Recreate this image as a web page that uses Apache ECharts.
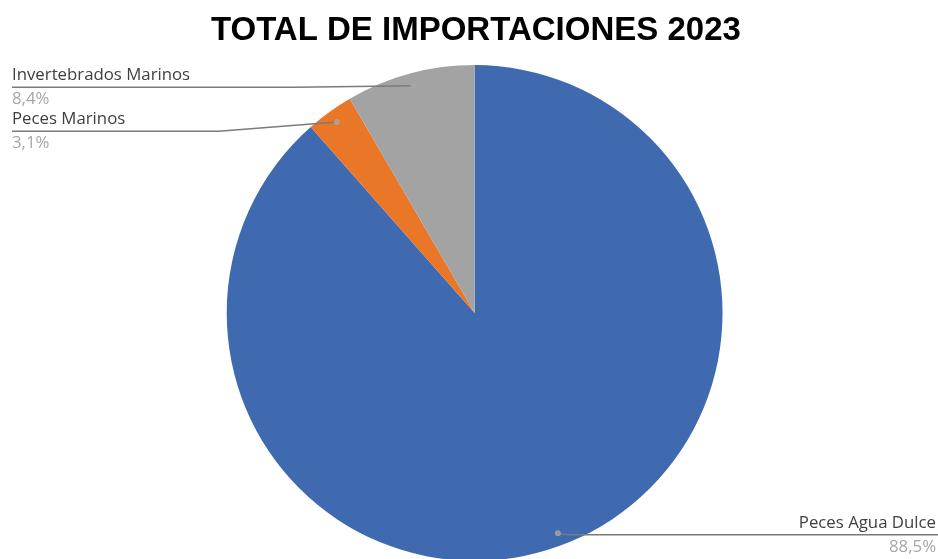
<!DOCTYPE html>
<html><head><meta charset="utf-8">
<script src="https://cdn.jsdelivr.net/npm/echarts@6/dist/echarts.min.js"></script>
<style>html,body{margin:0;padding:0;background:#fff}#c{width:938px;height:559px}</style>
</head><body><div id="c"></div>
<script>
const categories = ['Peces Agua Dulce', 'Peces Marinos', 'Invertebrados Marinos'];
const values = [88.5, 3.1, 8.4];
const colors = ['#3F6AB0', '#EA7628', '#A3A3A3'];
const titleText = 'TOTAL DE IMPORTACIONES 2023';

const CENTER = ['50.6%', '56%'];
const RADIUS = '88.7%';
const DOT_R = 0.95;

const chart = echarts.init(document.getElementById('c'));
const total = values.reduce((a, b) => a + b, 0);
const mids = [];
let acc = 0;
values.forEach(v => { mids.push((acc + v / 2) / total * 100); acc += v; });

function geom() {
  const W = chart.getWidth(), H = chart.getHeight();
  const cx = parseFloat(CENTER[0]) / 100 * W, cy = parseFloat(CENTER[1]) / 100 * H;
  const R = parseFloat(RADIUS) / 100 * Math.min(W, H) / 2;
  return { W, H, cx, cy, R };
}
function layoutInfo() {
  const g = geom();
  const info = mids.map((m, i) => {
    const t = m / 100 * Math.PI * 2;
    const dx = g.cx + DOT_R * g.R * Math.sin(t), dy = g.cy - DOT_R * g.R * Math.cos(t);
    return { i, dx, dy, left: Math.sin(t) < 0, lineY: dy + 1.5 };
  });
  [true, false].forEach(side => {
    const s = info.filter(o => o.left === side).sort((a, b) => a.dy - b.dy);
    for (let k = 1; k < s.length; k++) s[k].lineY = Math.max(s[k].lineY, s[k - 1].lineY + 44);
  });
  return { g, info };
}

const pieData = categories.map((c, i) => ({ name: c, value: values[i], itemStyle: { color: colors[i] } }));

chart.setOption({
  backgroundColor: '#fff',
  animation: false,
  title: {
    text: titleText, left: '50.2%', textAlign: 'center', top: 9,
    textStyle: { fontFamily: 'Liberation Sans', fontWeight: 'bold', fontSize: 33, color: '#000' }
  },
  polar: { center: CENTER, radius: RADIUS },
  angleAxis: { type: 'value', min: 0, max: 100, startAngle: 90, clockwise: true, show: false },
  radiusAxis: { type: 'value', min: 0, max: 1, show: false },
  series: [{
    type: 'pie',
    center: CENTER,
    radius: RADIUS,
    startAngle: 90,
    clockwise: true,
    z: 2,
    data: pieData,
    itemStyle: { borderWidth: 0 },
    label: { show: false },
    labelLine: { show: false }
  }, {
    type: 'pie',
    center: CENTER,
    radius: RADIUS,
    startAngle: 90,
    clockwise: true,
    z: 4,
    silent: true,
    avoidLabelOverlap: false,
    data: categories.map((c, i) => ({ name: c, value: values[i] })),
    itemStyle: { color: 'rgba(0,0,0,0)', borderWidth: 0 },
    label: {
      show: true, position: 'outside',
      formatter: p => '{n|' + p.name + '}\n{v|' + p.value.toFixed(1).replace('.', ',') + '%}',
      rich: {
        n: { fontFamily: 'Open Sans', fontSize: 16.8, color: '#404040', lineHeight: 24 },
        v: { fontFamily: 'Open Sans', fontSize: 16.8, color: '#A6A6A6', lineHeight: 24 }
      }
    },
    labelLine: { show: true, showAbove: true, lineStyle: { color: '#7A7A7A', width: 1.5 } },
    labelLayout: function (params) {
      const { g, info } = layoutInfo();
      const o = info[params.dataIndex];
      if (o.left) {
        const x = 12;
        return {
          x: x, y: o.lineY, align: 'left', verticalAlign: 'middle',
          labelLinePoints: [[o.dx, o.dy], [o.dx - 118, o.lineY], [x, o.lineY]]
        };
      } else {
        const x = g.W - 2;
        return {
          x: x, y: o.lineY, align: 'right', verticalAlign: 'middle',
          labelLinePoints: [[o.dx, o.dy], [o.dx + 10, o.lineY], [g.W, o.lineY]]
        };
      }
    }
  }, {
    type: 'scatter',
    coordinateSystem: 'polar',
    symbol: 'circle',
    symbolSize: 6,
    itemStyle: { color: '#A8A8A8' },
    silent: true,
    z: 5,
    data: mids.map(m => [DOT_R, m])
  }]
});
</script></body></html>
